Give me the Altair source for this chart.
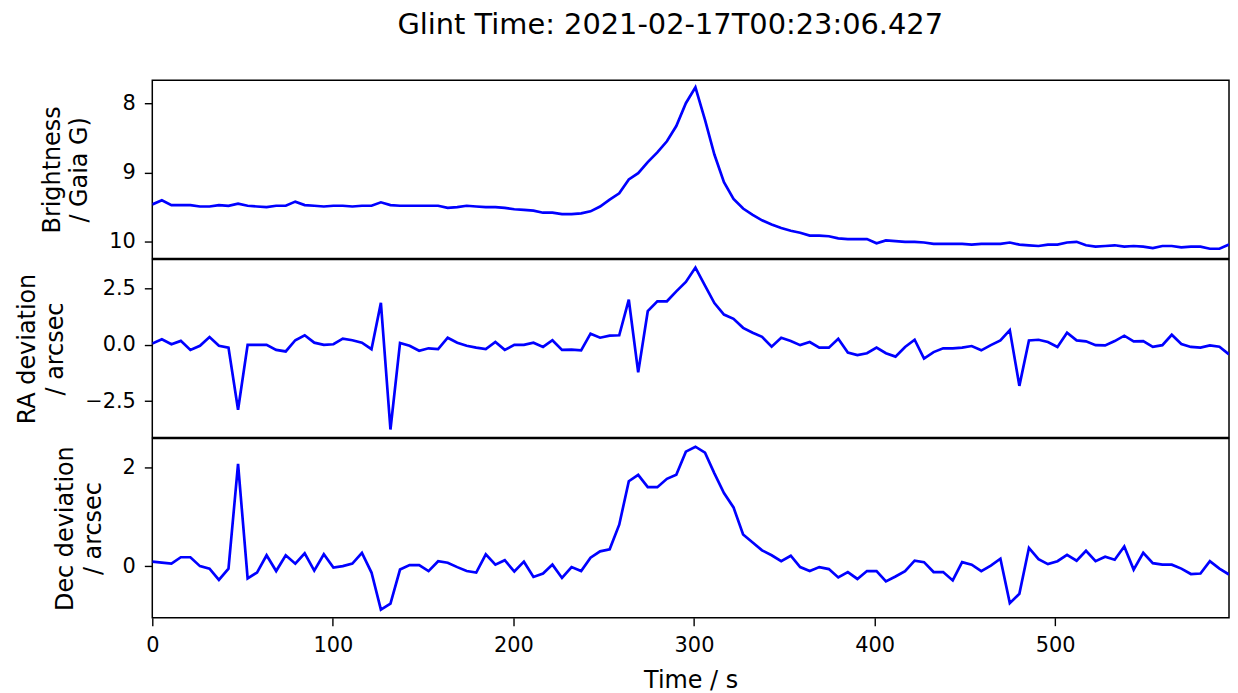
import altair as alt
import pandas as pd

TITLE = "Glint Time: 2021-02-17T00:23:06.427"

time_s = [0.0, 5.3, 10.6, 15.8, 21.1, 26.4, 31.7, 36.9, 42.2, 47.5,
          52.8, 58.0, 63.3, 68.6, 73.9, 79.2, 84.4, 89.7, 95.0, 100.3,
          105.5, 110.8, 116.1, 121.4, 126.6, 131.9, 137.2, 142.5, 147.8, 153.0,
          158.3, 163.6, 168.9, 174.1, 179.4, 184.7, 190.0, 195.2, 200.5, 205.8,
          211.1, 216.4, 221.6, 226.9, 232.2, 237.5, 242.7, 248.0, 253.3, 258.6,
          263.9, 269.1, 274.4, 279.7, 285.0, 290.2, 295.5, 300.8, 306.1, 311.3,
          316.6, 321.9, 327.2, 332.5, 337.7, 343.0, 348.3, 353.6, 358.8, 364.1,
          369.4, 374.7, 379.9, 385.2, 390.5, 395.8, 401.1, 406.3, 411.6, 416.9,
          422.2, 427.4, 432.7, 438.0, 443.3, 448.5, 453.8, 459.1, 464.4, 469.7,
          474.9, 480.2, 485.5, 490.8, 496.0, 501.3, 506.6, 511.9, 517.1, 522.4,
          527.7, 533.0, 538.3, 543.5, 548.8, 554.1, 559.4, 564.6, 569.9, 575.2,
          580.5, 585.7, 591.0, 596.3]

brightness = [9.46, 9.40, 9.47, 9.47, 9.47, 9.49, 9.49, 9.47, 9.48, 9.45,
              9.48, 9.49, 9.50, 9.48, 9.48, 9.42, 9.47, 9.48, 9.49, 9.48,
              9.48, 9.49, 9.48, 9.48, 9.43, 9.47, 9.48, 9.48, 9.48, 9.48,
              9.48, 9.51, 9.50, 9.48, 9.49, 9.50, 9.50, 9.51, 9.53, 9.54,
              9.55, 9.58, 9.58, 9.60, 9.60, 9.59, 9.56, 9.49, 9.39, 9.30,
              9.10, 9.01, 8.85, 8.71, 8.55, 8.33, 8.00, 7.77, 8.24, 8.74,
              9.14, 9.38, 9.52, 9.61, 9.69, 9.75, 9.80, 9.84, 9.87, 9.91,
              9.91, 9.92, 9.95, 9.96, 9.96, 9.96, 10.02, 9.98, 9.99, 10.00,
              10.00, 10.01, 10.03, 10.03, 10.03, 10.03, 10.04, 10.03, 10.03, 10.03,
              10.01, 10.04, 10.05, 10.06, 10.04, 10.04, 10.01, 10.00, 10.05, 10.07,
              10.06, 10.05, 10.07, 10.06, 10.07, 10.09, 10.06, 10.06, 10.08, 10.07,
              10.07, 10.10, 10.10, 10.04]

ra_dev = [0.06, 0.25, 0.03, 0.18, -0.22, -0.04, 0.35, -0.04, -0.12, -2.88,
          0.00, 0.00, 0.00, -0.22, -0.29, 0.21, 0.43, 0.10, 0.00, 0.03,
          0.28, 0.21, 0.10, -0.19, 1.87, -3.76, 0.09, -0.04, -0.26, -0.15,
          -0.19, 0.32, 0.10, -0.04, -0.12, -0.19, 0.13, -0.22, 0.00, 0.00,
          0.10, -0.09, 0.21, -0.22, -0.21, -0.24, 0.50, 0.32, 0.41, 0.43,
          2.01, -1.22, 1.50, 1.94, 1.94, 2.38, 2.80, 3.44, 2.64, 1.86,
          1.35, 1.16, 0.76, 0.54, 0.36, -0.08, 0.32, 0.17, -0.01, 0.13,
          -0.12, -0.12, 0.27, -0.34, -0.45, -0.37, -0.12, -0.37, -0.52, -0.09,
          0.23, -0.61, -0.32, -0.15, -0.15, -0.12, -0.05, -0.24, -0.01, 0.20,
          0.66, -1.82, 0.20, 0.23, 0.13, -0.09, 0.54, 0.20, 0.16, -0.01,
          -0.02, 0.17, 0.41, 0.16, 0.17, -0.09, -0.01, 0.45, 0.04, -0.09,
          -0.12, -0.02, -0.08, -0.42]

dec_dev = [0.09, 0.07, 0.05, 0.18, 0.18, 0.00, -0.05, -0.28, -0.05, 2.07,
           -0.25, -0.13, 0.22, -0.10, 0.22, 0.05, 0.26, -0.09, 0.24, -0.03,
           0.00, 0.05, 0.27, -0.13, -0.88, -0.76, -0.07, 0.02, 0.02, -0.10,
           0.10, 0.07, -0.02, -0.10, -0.13, 0.24, 0.03, 0.12, -0.11, 0.09,
           -0.22, -0.15, 0.03, -0.24, -0.02, -0.10, 0.17, 0.30, 0.34, 0.84,
           1.72, 1.85, 1.60, 1.60, 1.77, 1.85, 2.32, 2.42, 2.30, 1.88,
           1.48, 1.19, 0.64, 0.48, 0.32, 0.22, 0.10, 0.21, -0.02, -0.10,
           -0.02, -0.06, -0.23, -0.12, -0.26, -0.10, -0.10, -0.31, -0.21, -0.10,
           0.11, 0.08, -0.12, -0.12, -0.29, 0.08, 0.03, -0.10, 0.01, 0.15,
           -0.75, -0.56, 0.37, 0.14, 0.04, 0.10, 0.23, 0.11, 0.31, 0.10,
           0.19, 0.13, 0.40, -0.07, 0.27, 0.06, 0.03, 0.03, -0.05, -0.16,
           -0.15, 0.10, -0.05, -0.17]

x_ticks = [0, 100, 200, 300, 400, 500]

df = pd.DataFrame({"t": time_s, "b": brightness, "ra": ra_dev, "dec": dec_dev})

FONT = "DejaVu Sans"
W = 1082
XDOM = [0, 596.3]


def panel(field, title_lines, domain, ticks, fmt, h, reverse=False, show_x=False):
    xscale = alt.Scale(domain=XDOM, nice=False, zero=False)
    if show_x:
        x = alt.X("t:Q", scale=xscale,
                  axis=alt.Axis(values=x_ticks, format="d", title="Time / s",
                                labelFlush=False, titlePadding=13))
    else:
        x = alt.X("t:Q", scale=xscale, axis=None)
    y = alt.Y(f"{field}:Q",
              scale=alt.Scale(domain=domain, nice=False, zero=False, reverse=reverse),
              axis=alt.Axis(values=ticks, format=fmt, title=title_lines,
                            titleLineHeight=28, titlePadding=17))
    return (alt.Chart(df)
            .mark_line(color="#0000ff", strokeWidth=2.7, clip=True)
            .encode(x=x, y=y)
            .properties(width=W, height=h))


top = panel("b", ["Brightness", "/ Gaia G)"], [7.67, 10.24], [8, 9, 10], "d", 179, reverse=True)
mid = panel("ra", ["RA deviation", "/ arcsec"], [-4.12, 3.80], [-2.5, 0, 2.5], ".1f", 179)
bot = panel("dec", ["Dec deviation", "/ arcsec"], [-1.045, 2.585], [0, 2], "d", 180, show_x=True)

chart = (alt.vconcat(top, mid, bot, spacing=-1.5)
         .properties(
             title=alt.TitleParams(TITLE, fontSize=29, font=FONT, fontWeight="normal",
                                   color="black", anchor="middle", offset=40, dx=48),
             padding={"left": 7, "top": 1, "right": 0, "bottom": 0},
         )
         .configure_view(stroke="black", strokeWidth=1.5)
         .configure_axis(
             domain=False, grid=False,
             tickColor="black", tickSize=8, tickWidth=1.4,
             labelFont=FONT, labelFontSize=21, labelColor="black", labelPadding=9,
             titleFont=FONT, titleFontSize=24, titleFontWeight="normal", titleColor="black",
         ))

chart.save("out.html", embed_options={"renderer": "svg", "actions": False})
